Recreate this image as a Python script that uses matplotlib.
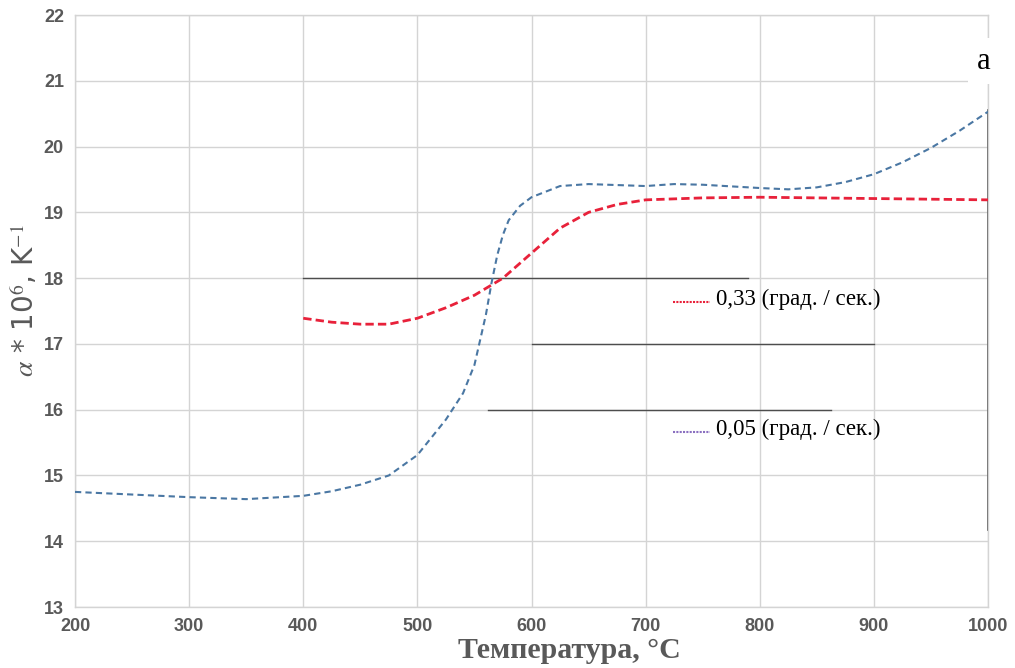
import matplotlib
matplotlib.use("Agg")
import matplotlib.pyplot as plt

# Temperature (°C) and thermal expansion coefficient α·10^6 (K^-1)
temp_slow = [200, 250, 300, 350, 400, 425, 450, 475, 500, 525, 540, 550, 560, 565,
             570, 575, 580, 590, 600, 625, 650, 700, 725, 750, 800, 825, 850, 875,
             900, 925, 950, 975, 1000]
alpha_slow = [14.75, 14.71, 14.67, 14.64, 14.69, 14.76, 14.86, 15.0, 15.31, 15.85,
              16.25, 16.68, 17.44, 17.93, 18.35, 18.66, 18.88, 19.1, 19.23, 19.4,
              19.43, 19.4, 19.43, 19.42, 19.37, 19.35, 19.38, 19.46, 19.58, 19.76,
              19.98, 20.24, 20.53]

temp_fast = [400, 425, 450, 475, 500, 525, 550, 575, 600, 625, 650, 675, 700, 750,
             800, 850, 900, 950, 1000]
alpha_fast = [17.39, 17.33, 17.30, 17.30, 17.39, 17.55, 17.74, 18.0, 18.38, 18.76,
              19.0, 19.12, 19.19, 19.22, 19.23, 19.22, 19.21, 19.2, 19.19]

x_ticks = [200, 300, 400, 500, 600, 700, 800, 900, 1000]
y_ticks = [13, 14, 15, 16, 17, 18, 19, 20, 21, 22]
label_fast = "0,33 (град. / сек.)"
label_slow = "0,05 (град. / сек.)"

plt.rcParams["mathtext.fontset"] = "stix"

fig = plt.figure(figsize=(10.15, 6.68), dpi=100)
ax = fig.add_axes([0.0739, 0.0913, 0.8995, 0.8862])
ax.set_xlim(200, 1000)
ax.set_ylim(13, 22)
ax.set_xticks(x_ticks)
ax.set_yticks(y_ticks)
ax.grid(True, color="#d4d4d4", linewidth=1.0)
ax.set_axisbelow(True)
for s in ax.spines.values():
    s.set_color("#d4d4d4")
    s.set_linewidth(1.0)
ax.tick_params(length=0, pad=8, labelsize=13, labelcolor="#595959")
for lab in ax.get_xticklabels() + ax.get_yticklabels():
    lab.set_fontweight("bold")
    lab.set_fontfamily("Liberation Sans")

# darker fragments of the grid
dark = "#4d4d4d"
ax.plot([400, 790], [18, 18], color=dark, lw=1.0, zorder=1)
ax.plot([600, 900], [17, 17], color=dark, lw=1.0, zorder=1)
ax.plot([562, 862], [16, 16], color=dark, lw=1.0, zorder=1)
ax.plot([1000, 1000], [14.17, 20.56], color=dark, lw=1.2, zorder=1, clip_on=False)

ax.plot(temp_slow, alpha_slow, color="#4a77a3", lw=1.5, ls=(0, (3, 2)), zorder=3)
ax.plot(temp_fast, alpha_fast, color="#e8213a", lw=2.0, ls=(0, (3, 1.5)), zorder=3)

# inline legend entries
ax.plot([724, 756], [17.64, 17.64], color="#e8213a", lw=1.5, ls=(0, (1, 0.6)), zorder=3)
ax.text(762, 17.68, label_fast, fontsize=16.5, family="Liberation Serif",
        va="center", ha="left", color="black")
ax.plot([724, 756], [15.66, 15.66], color="#8a6fc0", lw=1.5, ls=(0, (1, 0.6)), zorder=3)
ax.text(762, 15.70, label_slow, fontsize=16.5, family="Liberation Serif",
        va="center", ha="left", color="black")

# panel letter on a white patch
ax.text(1002, 21.3, "a", fontsize=22, family="Liberation Serif", ha="right",
        va="center", color="black",
        bbox=dict(facecolor="white", edgecolor="none", pad=6), zorder=5,
        clip_on=False)

ax.set_xlabel("Температура, °C", fontsize=21.5, family="Liberation Serif",
              fontweight="bold", color="#595959")
ax.xaxis.set_label_coords(0.542, -0.050)
ax.set_ylabel(r"$\alpha$ * 10$^6$, K$^{-1}$", fontsize=20, color="#595959")
ax.yaxis.set_label_coords(-0.038, 0.518)

fig.savefig("out.png", dpi=100)
